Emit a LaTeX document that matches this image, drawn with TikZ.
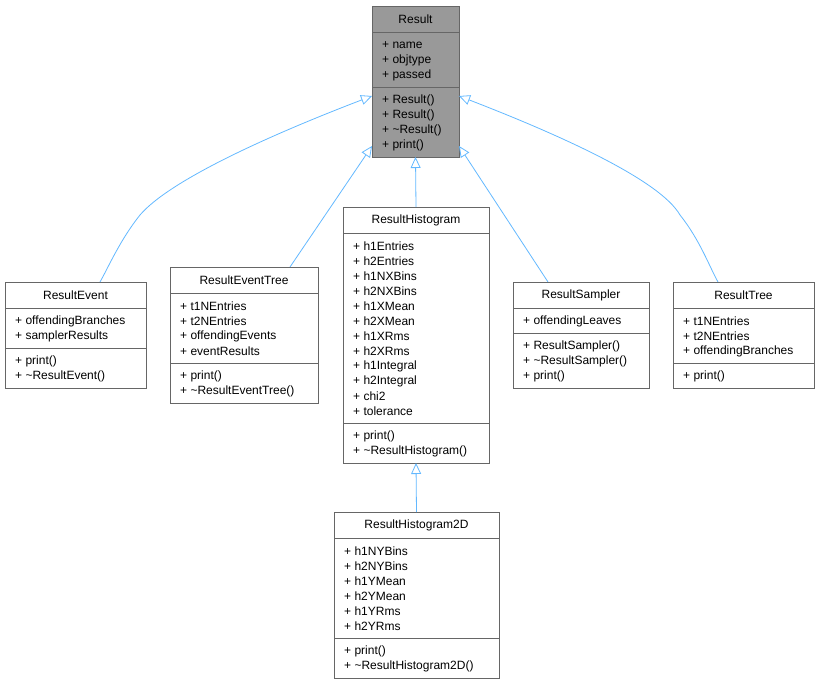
\documentclass[tikz,border=0pt]{standalone}
\usepackage{fontspec}
\setmainfont{Liberation Sans}
\usetikzlibrary{arrows.meta}
\definecolor{edgeblue}{HTML}{63B8FF}
\definecolor{boxgray}{HTML}{999999}
\definecolor{boxline}{HTML}{666666}
\tikzset{
  item/.style={anchor=west,inner sep=0pt,font=\fontsize{12}{14}\selectfont},
  ttl/.style={anchor=center,inner sep=0pt,font=\fontsize{12}{14}\selectfont},
  inh/.style={draw=edgeblue,line width=0.8pt,{Triangle[open,length=11pt,width=10pt]}-},
}
\def\clsfill{white}
% \umlcls{id}{x}{y}{w}{title}{nattr}{attrs}{nmeth}{meths}
\newcommand{\umlcls}[9]{%
  \pgfmathsetmacro{\ya}{#3+26}%
  \pgfmathsetmacro{\yb}{\ya+15*#6+10}%
  \pgfmathsetmacro{\yc}{\yb+15*#8+10}%
  \filldraw[draw=boxline,fill=\clsfill,line width=0.8pt] (#2,#3) rectangle (#2+#4,\yc);
  \draw[boxline,line width=0.8pt] (#2,\ya) -- (#2+#4,\ya) (#2,\yb) -- (#2+#4,\yb);
  \node[ttl] (#1t) at (#2+#4/2,#3+13) {#5};
  \coordinate (#1-n) at (#2+#4/2,#3);
  \coordinate (#1-s) at (#2+#4/2,\yc);
  \foreach \t [count=\k] in {#7} {\node[item] at (#2+10,\ya+13+15*\k-15) {\t};}
  \foreach \t [count=\k] in {#9} {\node[item] at (#2+10,\yb+13+15*\k-15) {\t};}
}
\begin{document}
\begin{tikzpicture}[x=1pt,y=-1pt]
\useasboundingbox (0,0) rectangle (820,687);
\def\clsfill{boxgray}
\umlcls{R}{372}{6}{87}{Result}{3}{+ name,+ objtype,+ passed}{4}{+ Result(),+ Result(),+ \textasciitilde Result(),+ print()}
\def\clsfill{white}
\umlcls{E}{5}{282}{141}{ResultEvent}{2}{+ offendingBranches,+ samplerResults}{2}{+ print(),+ \textasciitilde ResultEvent()}
\umlcls{ET}{170}{267}{148}{ResultEventTree}{4}{+ t1NEntries,+ t2NEntries,+ offendingEvents,+ eventResults}{2}{+ print(),+ \textasciitilde ResultEventTree()}
\umlcls{H}{343}{207}{146}{ResultHistogram}{12}{+ h1Entries,+ h2Entries,+ h1NXBins,+ h2NXBins,+ h1XMean,+ h2XMean,+ h1XRms,+ h2XRms,+ h1Integral,+ h2Integral,+ chi2,+ tolerance}{2}{+ print(),+ \textasciitilde ResultHistogram()}
\umlcls{S}{513}{282}{136}{ResultSampler}{1}{+ offendingLeaves}{3}{+ ResultSampler(),+ \textasciitilde ResultSampler(),+ print()}
\umlcls{T}{673}{282}{141}{ResultTree}{3}{+ t1NEntries,+ t2NEntries,+ offendingBranches}{1}{+ print()}
\umlcls{HD}{334}{512}{165}{ResultHistogram2D}{6}{+ h1NYBins,+ h2NYBins,+ h1YMean,+ h2YMean,+ h1YRms,+ h2YRms}{2}{+ print(),+ \textasciitilde ResultHistogram2D()}
\coordinate (RL1) at (372,96);
\coordinate (RL2) at (372,146);
\coordinate (RR1) at (459,96);
\coordinate (RR2) at (459,146);
\coordinate (E-t) at (100,282);
\coordinate (ET-t) at (290,267);
\coordinate (S-t) at (548,282);
\coordinate (T-t) at (718,282);
\draw[inh] (RL1) .. controls (270,135) and (170,180) .. (140,215) .. controls (120,240) and (108,268) .. (E-t);
\draw[inh] (RL2) -- (ET-t);
\draw[inh] (R-s) -- (H-n);
\draw[inh] (RR2) -- (S-t);
\draw[inh] (RR1) .. controls (560,135) and (660,180) .. (680,215) .. controls (700,240) and (710,268) .. (T-t);
\draw[inh] (H-s) -- (HD-n);
\end{tikzpicture}
\end{document}
